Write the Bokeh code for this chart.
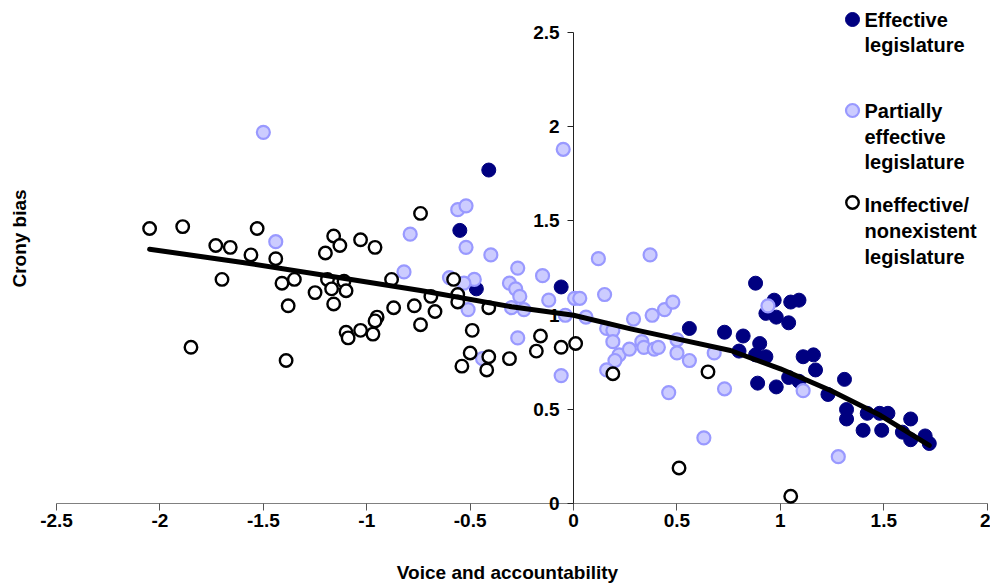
from bokeh.plotting import figure
from bokeh.models import Range1d, FixedTicker
from bokeh.embed import file_html
from bokeh.resources import INLINE
from bokeh.core.properties import value

# ---------------- data ----------------
eff_x = [-0.41, -0.55, -0.47, -0.06, 0.56, 0.73, 0.88, 1.05, 1.09, 0.97, 0.93, 0.98, 1.04,
         0.82, 0.90, 0.80, 0.88, 0.93, 0.89, 0.98, 1.11, 1.16, 1.17, 1.04, 1.09, 1.23, 1.31,
         1.32, 1.32, 1.40, 1.42, 1.48, 1.52, 1.49, 1.63, 1.59, 1.63, 1.70, 1.72]
eff_y = [1.77, 1.45, 1.14, 1.15, 0.93, 0.91, 1.17, 1.07, 1.08, 1.08, 1.01, 0.99, 0.96,
         0.89, 0.85, 0.81, 0.79, 0.78, 0.64, 0.62, 0.78, 0.79, 0.71, 0.67, 0.65, 0.58, 0.66,
         0.50, 0.45, 0.39, 0.48, 0.48, 0.48, 0.39, 0.45, 0.38, 0.34, 0.36, 0.32]

part_x = [-1.50, -1.44, -0.79, -0.82, -0.56, -0.52, -0.52, -0.40, -0.48, -0.53, -0.60, -0.51,
          -0.27, -0.31, -0.28, -0.26, -0.30, -0.24, -0.15, -0.12, -0.04, 0.005, 0.03, 0.06,
          0.12, 0.15, -0.27, -0.06, 0.16, 0.19, 0.19, 0.22, 0.20, 0.16, 0.29, 0.27, 0.38,
          0.33, 0.34, 0.39, 0.41, 0.44, 0.48, 0.50, 0.50, 0.56, 0.68, 0.46, 0.73, 0.63,
          -0.05, 0.37, 0.94, 1.11, 1.28, -0.44]
part_y = [1.97, 1.39, 1.43, 1.23, 1.56, 1.58, 1.36, 1.32, 1.19, 1.17, 1.20, 1.03,
          1.25, 1.17, 1.14, 1.10, 1.04, 1.03, 1.21, 1.08, 1.00, 1.09, 1.09, 0.99,
          1.30, 1.11, 0.88, 0.68, 0.93, 0.92, 0.86, 0.79, 0.76, 0.71, 0.98, 0.82, 1.00,
          0.86, 0.83, 0.82, 0.83, 1.03, 1.07, 0.87, 0.80, 0.76, 0.80, 0.59, 0.61, 0.35,
          1.88, 1.32, 1.05, 0.60, 0.25, 0.77]

inef_x = [-2.05, -1.89, -1.73, -1.66, -1.70, -1.85, -1.53, -1.56, -1.44, -1.41, -1.35, -1.38,
          -1.39, -1.25, -1.20, -1.16, -1.13, -1.19, -1.17, -1.11, -1.10, -1.16, -1.03, -0.96,
          -1.10, -1.09, -1.03, -0.97, -0.95, -0.96, -0.88, -0.87, -0.77, -0.74, -0.74, -0.69,
          -0.67, -0.58, -0.56, -0.56, -0.41, -0.49, -0.50, -0.54, -0.41, -0.42, -0.31, -0.18,
          -0.16, -0.06, 0.01, 0.19, 0.65, 0.51, 1.05]
inef_y = [1.46, 1.47, 1.37, 1.36, 1.19, 0.83, 1.46, 1.32, 1.30, 1.17, 1.19, 1.05,
          0.76, 1.12, 1.33, 1.42, 1.37, 1.19, 1.14, 1.18, 1.13, 1.06, 1.40, 1.36,
          0.91, 0.88, 0.92, 0.90, 0.99, 0.97, 1.19, 1.04, 1.05, 0.95, 1.54, 1.10,
          1.02, 1.19, 1.11, 1.07, 1.04, 0.92, 0.80, 0.73, 0.78, 0.71, 0.77, 0.81,
          0.89, 0.83, 0.85, 0.69, 0.70, 0.19, 0.04]

trend_x = [-2.05, -1.6, -1.175, -0.74, -0.3, 0.0, 0.276, 0.5, 0.759, 1.0, 1.243, 1.485, 1.72]
trend_y = [1.35, 1.28, 1.207, 1.131, 1.045, 1.0, 0.928, 0.875, 0.813, 0.716, 0.601, 0.468, 0.31]

x_ticks = [-2.5, -2, -1.5, -1, -0.5, 0, 0.5, 1, 1.5, 2]
x_tick_labels = ["-2.5", "-2", "-1.5", "-1", "-0.5", "0", "0.5", "1", "1.5", "2"]
y_ticks = [0, 0.5, 1, 1.5, 2, 2.5]
y_tick_labels = ["0", "0.5", "1", "1.5", "2", "2.5"]

legend_labels = [["Effective", "legislature"],
                 ["Partially", "effective", "legislature"],
                 ["Ineffective/", "nonexistent", "legislature"]]
x_title = "Voice and accountability"
y_title = "Crony bias"

# ---------------- layout ----------------
W, H = 990, 585
X0, X1 = -2.771, 2.016
Y0, Y1 = -0.433, 2.669


def sx(px):
    return X0 + px / W * (X1 - X0)


def sy(py):
    return Y1 - py / H * (Y1 - Y0)


FONT = value("Liberation Sans")
NAVY = "#000080"
LB_FILL = "#CCCCFF"
LB_LINE = "#9999FF"

p = figure(width=W, height=H, output_backend="svg", toolbar_location=None,
           x_range=Range1d(X0, X1), y_range=Range1d(Y0, Y1),
           min_border=0, min_border_left=0, min_border_right=0,
           min_border_top=0, min_border_bottom=0)
p.outline_line_color = None
p.background_fill_color = "white"
p.border_fill_color = "white"
p.xgrid.visible = False
p.ygrid.visible = False
p.title.visible = False

for ax, ticks, labels, loc, bnds in [
        (p.xaxis[0], x_ticks, x_tick_labels, 0, (-2.5, 2)),
        (p.yaxis[0], y_ticks, y_tick_labels, 0, (0, 2.5))]:
    ax.fixed_location = loc
    ax.bounds = bnds
    ax.ticker = FixedTicker(ticks=ticks)
    ax.major_label_overrides = {t: l for t, l in zip(ticks, labels)}
    ax.major_tick_in = 0
    ax.minor_tick_in = 0
    ax.minor_tick_out = 0
    ax.major_label_text_font = "Liberation Sans"
    ax.major_label_text_font_style = "bold"
    ax.major_label_text_font_size = "19px"
    ax.major_label_text_color = "black"
    ax.level = "underlay"

p.xaxis[0].major_tick_out = 7
p.xaxis[0].major_label_standoff = 3
p.xaxis[0].axis_line_color = "#808080"
p.xaxis[0].major_tick_line_color = "#555555"
p.yaxis[0].major_tick_out = 6
p.yaxis[0].major_label_standoff = 8
p.yaxis[0].axis_line_color = "#222222"
p.yaxis[0].major_tick_line_color = "#222222"

# series
p.scatter(eff_x, eff_y, size=14, fill_color=NAVY, line_color=NAVY, line_width=1)
p.scatter(part_x, part_y, size=13, fill_color=LB_FILL, line_color=LB_LINE, line_width=2.2)
p.scatter(inef_x, inef_y, size=12.5, fill_color="white", line_color="black", line_width=2.4)
p.line(trend_x, trend_y, line_color="black", line_width=5, line_cap="round", line_join="round")

# axis titles
p.text([sx(507)], [sy(572)], text=[x_title], text_font=FONT, text_font_style="bold",
       text_font_size="19px", text_align="center", text_baseline="middle", text_color="black")
p.text([sx(19)], [sy(238)], text=[y_title], text_font=FONT, text_font_style="bold",
       text_font_size="19px", text_align="center", text_baseline="middle", angle=1.5708,
       text_color="black")

# legend (drawn by hand, multi-line labels)
marker_py = [19, 110, 202]
centers = [[19, 44], [110, 136, 161], [204, 230, 256]]
styles = [dict(size=14, fill_color=NAVY, line_color=NAVY, line_width=1),
          dict(size=13, fill_color=LB_FILL, line_color=LB_LINE, line_width=2.2),
          dict(size=12.5, fill_color="white", line_color="black", line_width=2.4)]
for mpy, cts, labs, st in zip(marker_py, centers, legend_labels, styles):
    p.scatter([sx(852)], [sy(mpy)], **st)
    p.text([sx(864)] * len(labs), [sy(c) for c in cts], text=labs, text_font=FONT,
           text_font_style="bold", text_font_size="20px", text_align="left",
           text_baseline="middle", text_color="black")

open("out.html", "w").write(file_html(p, INLINE))
